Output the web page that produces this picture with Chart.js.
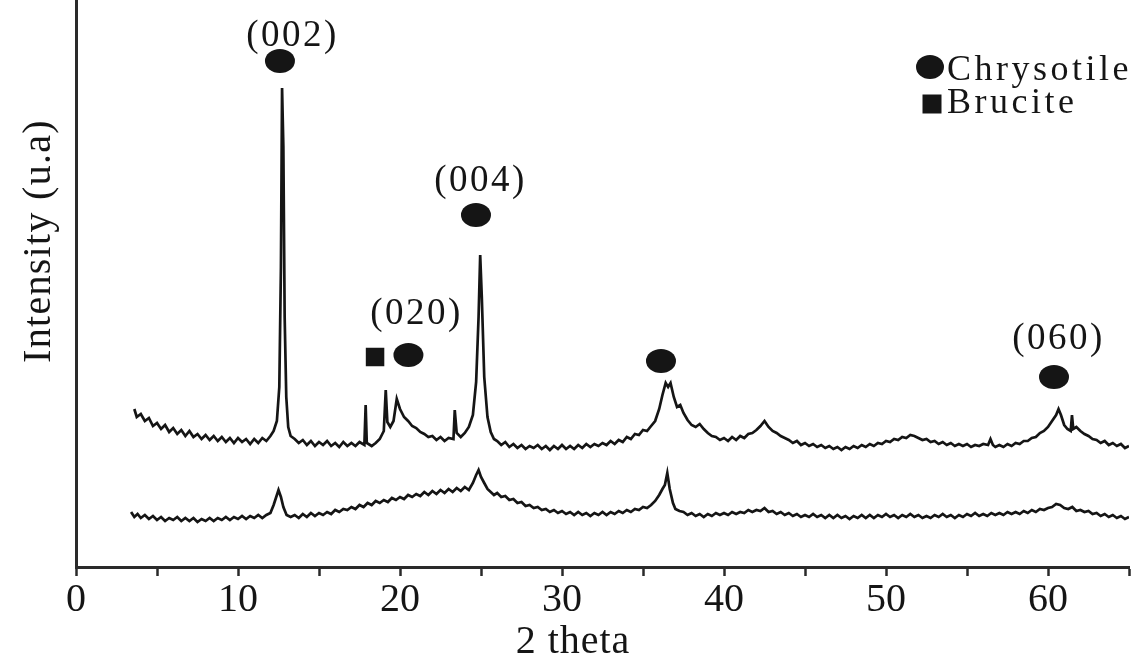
<!DOCTYPE html>
<html>
<head>
<meta charset="utf-8">
<script src="https://cdn.jsdelivr.net/npm/chart.js@4.4.1/dist/chart.umd.min.js"></script>
<style>
  html, body { margin: 0; padding: 0; background: #fff; }
  #wrap { width: 1145px; height: 661px; position: relative; }
</style>
</head>
<body>
<div id="wrap"><canvas id="xrdChart"></canvas></div>
<script>
// tick labels on the 2 theta axis
const thetaTicks = [0, 10, 20, 30, 40, 50, 60];

// upper pattern: [2 theta, intensity (a.u.)]
const upperScan = [
  [3.6,158],[3.75,150],[4,153],[4.25,146],[4.5,149],[4.75,141],[5,144],[5.25,138],[5.5,142],[5.75,135],
  [6,139],[6.25,133],[6.5,137],[6.75,131],[7,136],[7.25,130],[7.5,133],[7.75,128],[8,132],[8.25,127],
  [8.5,131],[8.75,126],[9,130],[9.25,125],[9.5,129],[9.75,124],[10,129],[10.25,125],[10.5,128],[10.75,123],
  [11,128],[11.25,124],[11.5,129],[11.75,126],[12,131],[12.2,136],[12.4,146],[12.55,180],[12.65,300],[12.72,479],
  [12.8,420],[12.88,250],[12.98,170],[13.1,140],[13.25,131],[13.5,128],[13.75,124],[14,127],[14.25,122],[14.5,126],
  [14.75,121],[15,125],[15.25,122],[15.5,126],[15.75,121],[16,124],[16.25,120],[16.5,125],[16.75,121],[17,124],
  [17.25,121],[17.5,125],[17.8,122],[17.88,162],[17.95,124],[18.25,121],[18.5,124],[18.75,128],[19,136],[19.12,177],
  [19.22,145],[19.4,140],[19.6,146],[19.8,168],[20,158],[20.25,150],[20.5,146],[20.75,141],[21,139],[21.25,135],
  [21.5,133],[21.75,130],[22,131],[22.25,127],[22.5,130],[22.75,126],[23,129],[23.3,128],[23.38,157],[23.5,134],
  [23.75,130],[24,134],[24.25,140],[24.5,152],[24.7,185],[24.85,250],[24.95,312],[25.05,270],[25.2,190],[25.4,150],
  [25.6,135],[25.8,128],[26,126],[26.25,122],[26.5,125],[26.75,120],[27,123],[27.25,119],[27.5,122],[27.75,118],
  [28,121],[28.25,119],[28.5,122],[28.75,118],[29,121],[29.25,117],[29.5,121],[29.75,118],[30,122],[30.25,118],
  [30.5,121],[30.75,118],[31,122],[31.25,119],[31.5,123],[31.75,120],[32,123],[32.25,121],[32.5,124],[32.75,122],
  [33,126],[33.25,123],[33.5,127],[33.75,125],[34,130],[34.25,128],[34.5,133],[34.75,132],[35,137],[35.25,136],
  [35.5,141],[35.75,146],[36,158],[36.2,172],[36.4,184],[36.55,180],[36.7,184],[36.9,170],[37.1,160],[37.3,162],
  [37.5,154],[37.75,147],[38,142],[38.25,140],[38.5,143],[38.75,138],[39,134],[39.25,131],[39.5,130],[39.75,127],
  [40,129],[40.25,126],[40.5,130],[40.75,127],[41,131],[41.25,129],[41.5,133],[41.75,134],[42,137],[42.25,141],
  [42.5,146],[42.75,140],[43,136],[43.25,134],[43.5,131],[43.75,129],[44,127],[44.25,124],[44.5,126],[44.75,122],
  [45,124],[45.25,121],[45.5,123],[45.75,120],[46,122],[46.25,119],[46.5,121],[46.75,118],[47,120],[47.25,117],
  [47.5,120],[47.75,118],[48,121],[48.25,119],[48.5,122],[48.75,120],[49,123],[49.25,121],[49.5,124],[49.75,123],
  [50,126],[50.25,125],[50.5,128],[50.75,127],[51,130],[51.25,129],[51.5,132],[51.75,131],[52,129],[52.25,127],
  [52.5,128],[52.75,125],[53,126],[53.25,123],[53.5,125],[53.75,122],[54,124],[54.25,121],[54.5,123],[54.75,121],
  [55,123],[55.25,120],[55.5,122],[55.75,121],[56,123],[56.3,122],[56.45,128],[56.6,122],[56.75,120],[57,122],
  [57.25,120],[57.5,123],[57.75,121],[58,124],[58.25,123],[58.5,126],[58.75,126],[59,129],[59.25,130],[59.5,134],
  [59.75,136],[60,140],[60.25,146],[60.5,152],[60.65,158],[60.8,152],[61,142],[61.2,138],[61.4,136],[61.48,152],
  [61.56,138],[61.75,140],[62,136],[62.25,133],[62.5,131],[62.75,128],[63,127],[63.25,124],[63.5,126],[63.75,122],
  [64,124],[64.25,121],[64.5,123],[64.75,119],[65,121],[65.3,118]
];

// lower pattern: [2 theta, intensity (a.u.)]
const lowerScan = [
  [3.4,55],[3.6,50],[3.8,53],[4,49],[4.25,52],[4.5,48],[4.75,51],[5,47],[5.25,50],[5.5,46],
  [5.75,49],[6,47],[6.25,50],[6.5,46],[6.75,49],[7,46],[7.25,49],[7.5,45],[7.75,48],[8,46],
  [8.25,49],[8.5,46],[8.75,49],[9,47],[9.25,50],[9.5,47],[9.75,50],[10,48],[10.25,51],[10.5,48],
  [10.75,51],[11,49],[11.25,52],[11.5,49],[11.75,52],[12,54],[12.2,62],[12.4,72],[12.5,77],[12.65,70],
  [12.8,60],[13,52],[13.25,50],[13.5,52],[13.75,49],[14,53],[14.25,50],[14.5,54],[14.75,51],[15,54],
  [15.25,52],[15.5,55],[15.75,53],[16,57],[16.25,55],[16.5,58],[16.75,57],[17,60],[17.25,58],[17.5,62],
  [17.75,60],[18,64],[18.25,62],[18.5,66],[18.75,64],[19,67],[19.25,65],[19.5,69],[19.75,67],[20,70],
  [20.25,68],[20.5,72],[20.75,70],[21,73],[21.25,71],[21.5,75],[21.75,72],[22,76],[22.25,73],[22.5,77],
  [22.75,74],[23,78],[23.25,75],[23.5,79],[23.75,76],[24,80],[24.25,77],[24.5,84],[24.7,92],[24.85,97],
  [25,90],[25.2,84],[25.4,78],[25.6,75],[25.8,72],[26,74],[26.25,70],[26.5,71],[26.75,67],[27,68],
  [27.25,64],[27.5,65],[27.75,61],[28,62],[28.25,59],[28.5,60],[28.75,57],[29,58],[29.25,55],[29.5,57],
  [29.75,54],[30,56],[30.25,53],[30.5,55],[30.75,52],[31,55],[31.25,52],[31.5,54],[31.75,51],[32,54],
  [32.25,52],[32.5,55],[32.75,52],[33,55],[33.25,53],[33.5,56],[33.75,54],[34,57],[34.25,55],[34.5,58],
  [34.75,57],[35,60],[35.25,59],[35.5,62],[35.75,66],[36,72],[36.2,78],[36.35,82],[36.5,94],[36.65,78],
  [36.85,64],[37,58],[37.25,56],[37.5,55],[37.75,52],[38,54],[38.25,51],[38.5,53],[38.75,50],[39,53],
  [39.25,51],[39.5,54],[39.75,52],[40,54],[40.25,52],[40.5,55],[40.75,53],[41,55],[41.25,54],[41.5,57],
  [41.75,55],[42,57],[42.25,56],[42.5,59],[42.75,55],[43,56],[43.25,53],[43.5,55],[43.75,52],[44,54],
  [44.25,51],[44.5,53],[44.75,50],[45,52],[45.25,50],[45.5,53],[45.75,50],[46,52],[46.25,49],[46.5,52],
  [46.75,49],[47,52],[47.25,49],[47.5,51],[47.75,48],[48,51],[48.25,49],[48.5,52],[48.75,49],[49,52],
  [49.25,49],[49.5,52],[49.75,50],[50,53],[50.25,50],[50.5,52],[50.75,49],[51,52],[51.25,50],[51.5,53],
  [51.75,50],[52,52],[52.25,49],[52.5,51],[52.75,49],[53,52],[53.25,50],[53.5,53],[53.75,50],[54,52],
  [54.25,49],[54.5,52],[54.75,50],[55,53],[55.25,51],[55.5,54],[55.75,51],[56,53],[56.25,51],[56.5,54],
  [56.75,52],[57,54],[57.25,52],[57.5,55],[57.75,53],[58,55],[58.25,53],[58.5,56],[58.75,54],[59,57],
  [59.25,55],[59.5,58],[59.75,57],[60,59],[60.25,60],[60.5,63],[60.75,62],[61,59],[61.25,58],[61.5,60],
  [61.75,56],[62,57],[62.25,55],[62.5,56],[62.75,53],[63,54],[63.25,51],[63.5,53],[63.75,50],[64,52],
  [64.25,49],[64.5,51],[64.75,48],[65,50]
];

// peak labels and phase markers, placed in data units
const peakLabels = [
  { text: '(002)', theta: 13.27, level: 521 },
  { text: '(004)', theta: 24.88, level: 376 },
  { text: '(020)', theta: 20.93, level: 243 },
  { text: '(060)', theta: 60.56, level: 218 }
];
const phaseMarks = [
  { phase: 'Chrysotile', theta: 12.59, level: 506 },
  { phase: 'Chrysotile', theta: 24.69, level: 352 },
  { phase: 'Brucite', theta: 18.46, level: 210 },
  { phase: 'Chrysotile', theta: 20.52, level: 212 },
  { phase: 'Chrysotile', theta: 36.11, level: 206 },
  { phase: 'Chrysotile', theta: 60.37, level: 190 }
];

const ink = '#151515';
const serif = '"Liberation Serif", "Times New Roman", serif';

function drawMark(ctx, phase, x, y, big) {
  ctx.beginPath();
  if (phase === 'Brucite') {
    const s = big ? 19 : 18.5;
    ctx.rect(x - s / 2, y - s / 2, s, s);
  } else {
    ctx.ellipse(x, y, big ? 14 : 15, 12, 0, 0, Math.PI * 2);
  }
  ctx.fill();
}

const decorations = {
  id: 'decorations',
  afterDraw(chart) {
    const { ctx, scales: { x, y } } = chart;
    ctx.save();
    ctx.fillStyle = ink;

    // peak labels
    ctx.font = '37px ' + serif;
    ctx.letterSpacing = '2.5px';
    ctx.textAlign = 'center';
    ctx.textBaseline = 'alphabetic';
    peakLabels.forEach(p => {
      ctx.fillText(p.text, x.getPixelForValue(p.theta) + 1.5, y.getPixelForValue(p.level));
    });

    phaseMarks.forEach(m => {
      drawMark(ctx, m.phase, x.getPixelForValue(m.theta), y.getPixelForValue(m.level), false);
    });

    // legend
    drawMark(ctx, 'Chrysotile', 930, 67, true);
    drawMark(ctx, 'Brucite', 932, 104, true);
    ctx.font = '36px ' + serif;
    ctx.textAlign = 'left';
    ctx.letterSpacing = '3.5px';
    ctx.fillText('Chrysotile', 947, 80);
    ctx.fillText('Brucite', 947, 113);

    // axis titles
    ctx.font = '40px ' + serif;
    ctx.letterSpacing = '1px';
    ctx.textAlign = 'center';
    ctx.fillText('2 theta', 573, 653);
    ctx.translate(50, 241);
    ctx.rotate(-Math.PI / 2);
    ctx.letterSpacing = '1.3px';
    ctx.fillText('Intensity (u.a)', 0, 0);
    ctx.restore();
  }
};

new Chart(document.getElementById('xrdChart'), {
  type: 'line',
  data: {
    datasets: [
      {
        label: 'upper',
        data: upperScan.map(p => ({ x: p[0], y: p[1] })),
        borderColor: ink,
        borderWidth: 2.7,
        pointRadius: 0,
        tension: 0
      },
      {
        label: 'lower',
        data: lowerScan.map(p => ({ x: p[0], y: p[1] })),
        borderColor: ink,
        borderWidth: 2.7,
        pointRadius: 0,
        tension: 0
      }
    ]
  },
  options: {
    responsive: true,
    maintainAspectRatio: false,
    animation: false,
    layout: { padding: { top: 0, right: 16, bottom: 0, left: 0 } },
    plugins: {
      legend: { display: false },
      tooltip: { enabled: false }
    },
    scales: {
      x: {
        type: 'linear',
        min: 0,
        max: 65,
        afterFit: s => { s.height = 94; },
        border: { color: '#2a2a2a', width: 3 },
        grid: { drawOnChartArea: false, tickLength: 9, tickColor: '#2a2a2a', tickWidth: 2.5 },
        ticks: {
          stepSize: 5,
          autoSkip: false,
          maxRotation: 0,
          padding: 0,
          color: ink,
          font: { family: serif, size: 40 },
          callback: v => thetaTicks.includes(v) ? String(v) : ''
        }
      },
      y: {
        min: 0,
        max: 567,
        afterFit: s => { s.width = 76; },
        border: { color: '#2a2a2a', width: 3 },
        grid: { drawOnChartArea: false, drawTicks: false },
        ticks: { display: false }
      }
    }
  },
  plugins: [decorations]
});
</script>
</body>
</html>
